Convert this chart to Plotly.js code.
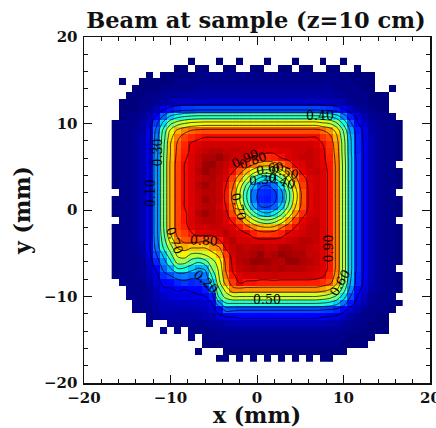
<!DOCTYPE html>
<html><head><meta charset="utf-8">
<script src="https://cdn.plot.ly/plotly-3.0.1.min.js"></script>
<style>html,body{margin:0;padding:0;background:#fff}#c{width:436px;height:428px;overflow:hidden}</style>
</head><body><div id="c"></div>
<script>
const _=null;
// beam intensity in percent, one row per 0.8 mm, top row first; _ = no data
const intensityRows=[
[_,_,_,_,_,_,_,_,_,_, _,0,_,_,_,0,_,_,0,_, _,_,0,_,_,_,0,_,_,_, 0,_,_,0,_,_,_,_,_,_,_,_],
[_,_,_,_,_,_,_,_,_,0, 0,_,0,0,_,_,0,0,_,_, 0,0,_,_,0,0,_,0,0,_, _,0,0,_,_,0,_,_,_,_,_,_],
[_,_,_,_,_,0,_,0,0,0, 0,0,1,1,1,1,1,1,1,1, 1,1,1,1,1,1,1,1,1,1, 1,1,1,0,0,0,0,0,_,_,_,_],
[_,0,_,_,0,0,0,0,0,1, 1,1,1,1,1,1,1,1,1,1, 1,1,1,1,1,1,1,1,1,1, 1,1,1,1,1,0,0,0,_,_,_,_],
[_,_,_,0,0,0,0,1,1,1, 1,1,2,2,2,2,2,2,2,2, 2,2,2,2,2,2,2,2,2,2, 2,2,1,1,1,1,0,0,_,_,0,_],
[_,_,0,0,0,1,1,2,2,3, 3,3,3,3,3,3,3,3,3,3, 3,3,3,3,3,3,3,3,3,3, 3,3,2,2,1,1,1,0,0,0,_,_],
[_,0,0,0,1,1,2,3,4,5, 6,6,6,6,6,6,6,6,6,6, 6,6,6,6,6,6,6,6,6,6, 6,5,5,4,2,1,1,0,0,0,_,_],
[_,0,0,0,1,2,5,10,14,16, 18,18,19,19,19,19,19,19,19,19, 19,19,19,19,19,19,19,19,19,19, 18,17,15,11,6,3,2,1,0,0,_,_],
[_,0,1,1,2,4,12,22,32,37, 40,42,43,43,43,43,43,43,43,43, 43,43,43,43,43,43,43,43,43,43, 41,39,35,25,15,8,4,2,1,1,0,_],
[0,1,1,1,3,6,18,34,48,56, 60,63,64,65,65,65,65,65,65,65, 65,65,65,65,65,65,65,65,65,65, 62,60,52,38,22,11,6,3,1,1,1,0],
[0,1,1,2,3,8,23,43,62,72, 77,80,82,83,83,83,83,83,83,83, 83,83,83,83,83,83,83,83,83,83, 80,76,67,49,28,15,8,3,2,1,1,0],
[0,1,1,2,4,8,25,46,67,78, 84,87,89,90,90,90,90,90,90,90, 90,90,90,90,90,90,90,90,90,90, 86,83,72,53,31,16,8,4,2,1,1,0],
[0,1,1,2,4,9,26,48,70,81, 87,91,92,93,93,93,93,93,93,93, 93,93,93,93,93,93,93,93,93,92, 90,86,75,55,32,16,9,4,2,1,1,0],
[0,1,1,2,4,9,26,49,70,82, 88,91,93,94,95,95,94,94,94,93, 93,92,91,91,92,92,93,93,94,93, 91,87,76,55,32,16,9,4,2,1,1,0],
[0,1,1,2,4,9,27,50,71,83, 89,92,94,96,96,98,95,94,93,91, 89,88,87,88,90,92,93,94,94,93, 91,88,77,56,33,17,9,4,2,1,1,0],
[0,1,1,2,4,9,27,50,72,84, 90,92,94,97,98,95,94,92,90,86, 79,74,72,75,80,85,91,92,94,93, 91,89,78,57,33,17,9,4,2,1,1,_],
[0,1,1,2,4,9,27,50,72,84, 90,92,95,98,96,95,93,90,83,72, 63,56,54,57,65,75,85,91,93,94, 92,89,78,57,33,17,9,4,2,1,1,0],
[0,1,1,2,4,9,27,50,72,84, 90,92,94,95,96,94,92,85,74,60, 46,36,33,38,49,63,77,87,92,93, 92,89,78,57,33,17,9,4,2,1,1,0],
[0,1,1,2,4,9,27,50,72,84, 90,92,95,97,95,94,90,81,65,48, 31,21,19,24,35,52,70,85,91,93, 92,89,78,57,33,17,9,4,2,1,1,0],
[_,1,1,2,4,9,27,50,72,84, 90,92,94,95,95,94,89,78,61,41, 24,17,16,18,27,46,65,82,91,93, 92,89,78,57,33,17,9,4,2,1,1,_],
[0,1,1,2,4,9,27,50,72,84, 90,92,94,97,95,94,89,78,60,41, 24,16,15,18,26,46,65,82,91,93, 92,89,78,57,33,17,9,4,2,1,1,0],
[0,1,1,2,4,9,27,50,72,84, 90,92,94,95,95,93,90,81,65,47, 30,20,19,22,33,51,69,83,91,93, 92,89,78,57,33,17,9,4,2,1,1,0],
[0,1,1,2,4,9,27,50,72,84, 89,92,95,97,95,94,92,84,72,58, 44,34,31,36,47,62,76,87,92,93, 92,89,78,57,33,17,9,4,2,1,1,0],
[_,1,1,2,4,9,27,50,72,84, 89,92,94,95,95,94,92,89,82,71, 61,54,51,55,63,74,85,91,93,94, 92,89,78,57,33,17,9,4,2,1,1,_],
[0,1,1,2,4,9,27,50,72,84, 88,92,93,93,94,94,93,92,89,83, 77,72,70,72,79,85,90,92,94,94, 92,89,78,57,33,17,9,4,2,1,1,0],
[0,1,1,2,4,9,27,48,70,82, 85,89,92,92,92,93,95,93,92,91, 88,85,85,86,88,91,92,93,94,94, 92,89,78,57,33,17,9,4,2,1,1,0],
[0,1,1,2,4,9,26,45,63,77, 82,83,82,80,82,89,93,95,93,93, 92,92,92,92,92,93,94,95,95,94, 92,89,78,57,33,17,9,4,2,1,1,0],
[0,1,1,2,3,9,24,41,55,70, 73,70,70,70,76,78,91,94,95,94, 95,95,94,94,96,96,95,95,94,93, 92,89,78,57,33,17,9,4,2,1,1,0],
[0,1,1,1,3,8,20,32,47,62, 65,58,57,60,65,72,85,93,95,95, 96,98,95,96,98,97,96,96,94,94, 92,89,78,57,33,17,9,4,2,1,1,0],
[0,1,1,1,2,6,16,26,38,54, 54,46,41,46,56,65,82,92,95,96, 98,98,97,96,95,98,98,96,95,94, 92,89,78,57,33,17,9,4,2,1,1,0],
[0,1,1,1,2,5,12,22,29,39, 38,33,29,31,50,62,81,91,94,95, 96,95,96,95,96,95,95,95,94,93, 92,89,78,57,33,17,9,4,2,1,1,_],
[0,1,1,1,2,4,8,17,20,24, 25,23,23,25,41,60,78,89,92,93, 93,93,93,94,93,93,93,93,93,92, 91,87,76,55,32,16,9,4,2,1,1,0],
[_,1,1,1,1,3,7,12,13,16, 18,16,17,21,34,57,74,85,91,89, 89,88,88,88,88,88,88,88,88,88, 86,83,72,52,30,16,8,4,2,1,1,0],
[_,_,1,1,1,2,5,9,9,11, 10,11,12,15,26,48,64,77,77,76, 76,76,76,76,76,76,76,76,76,76, 74,70,61,45,26,13,7,3,2,1,1,0],
[_,_,1,1,1,2,4,6,7,8, 8,8,9,10,15,42,54,60,60,60, 60,60,60,60,60,60,60,60,60,60, 58,55,48,35,20,10,5,2,1,1,1,_],
[_,_,_,1,1,2,3,5,5,6, 6,6,6,7,10,27,39,40,40,40, 40,40,40,40,40,40,40,40,40,40, 39,37,33,24,14,7,4,2,1,1,1,0],
[_,_,_,1,1,1,3,4,4,4, 4,4,5,5,7,13,22,21,20,20, 20,20,20,20,20,20,20,20,20,20, 19,18,16,12,7,4,2,1,1,1,0,_],
[_,_,_,_,_,1,2,3,3,3, 3,3,3,4,4,7,9,10,11,11, 11,11,11,11,11,11,11,11,11,11, 10,9,8,6,3,2,1,1,0,0,_,_],
[_,_,_,_,_,1,_,_,2,2, 2,2,2,2,3,3,4,5,5,5, 5,5,5,5,5,5,5,5,5,5, 5,4,4,3,2,1,1,0,0,0,_,_],
[_,_,_,_,_,_,_,1,_,1, _,1,1,1,1,2,2,2,2,2, 2,2,2,2,2,2,2,2,2,2, 2,2,2,1,1,1,0,0,0,0,_,_],
[_,_,_,_,_,_,_,_,_,_, _,1,_,1,1,1,1,1,1,1, 1,1,1,1,1,1,1,1,1,1, 1,1,1,1,0,0,0,0,_,_,_,_],
[_,_,_,_,_,_,_,_,_,_, _,_,_,0,0,0,1,1,1,1, 1,1,1,1,1,1,1,1,1,1, 1,1,1,0,0,0,0,_,_,_,_,_],
[_,_,_,_,_,_,_,_,_,_, _,_,0,_,_,_,0,0,0,0, 0,0,0,0,0,0,0,0,0,0, 0,0,0,0,_,_,_,_,_,_,_,_],
[_,_,_,_,_,_,_,_,_,_, _,_,_,_,_,0,0,_,0,_, 0,_,0,_,0,_,0,_,0,_, 0,0,_,_,_,_,_,_,_,_,_,_]
];
const labelTexts=["0.40","0.30","0.10","0.70","0.80","0.20","0.50","0.60","0.90","0.70","0.90","0.80","0.60","0.50","0.30","0.40"];
const labelX=[7.3,-11.5,-12.3,-9.5,-6.1,-5.9,1.15,9.6,8.25,-2.1,-1.4,-0.5,1.5,3.2,0.7,2.85];
const labelY=[10.87,6.6,1.9,-3.5,-3.5,-8.3,-10.4,-8.4,-4.4,0.4,6.0,5.7,4.8,4.4,3.55,3.4];
const labelAngle=[0,-90,-90,70,3,42,0,-60,-90,75,-25,-20,-10,15,-5,20];
const tickVals=[-20,-10,0,10,20];

const z=intensityRows.slice().reverse();
const serif='"DejaVu Serif", serif';
const jet=[[0,'rgb(0,0,127)'],[.11,'rgb(0,0,255)'],[.125,'rgb(0,0,255)'],[.34,'rgb(0,219,255)'],[.35,'rgb(0,229,247)'],[.375,'rgb(20,255,226)'],[.64,'rgb(238,255,8)'],[.65,'rgb(247,245,0)'],[.66,'rgb(255,236,0)'],[.89,'rgb(255,19,0)'],[.91,'rgb(232,0,0)'],[1,'rgb(127,0,0)']];
const grid={x0:-16.4,dx:.8,y0:-17.2,dy:.8};
const axis=(title,standoff)=>({range:[-20,20],tickmode:'array',tickvals:tickVals,ticks:'inside',ticklen:8,tickwidth:1,tickcolor:'#111',
  mirror:'allticks',showline:true,linecolor:'#111',linewidth:1.5,showgrid:false,zeroline:false,
  minor:{dtick:2,ticks:'inside',ticklen:4,tickwidth:1,tickcolor:'#111',showgrid:false},
  tickfont:{family:serif,size:15,color:'#111',weight:'bold'},
  title:{text:'<b>'+title+'</b>',font:{family:serif,size:22,color:'#111'},standoff}});
const data=[
 Object.assign({type:'heatmap',z,zmin:0,zmax:100,colorscale:jet,showscale:false,zsmooth:false,hoverongaps:false},grid),
 Object.assign({type:'contour',z,autocontour:false,contours:{start:10,end:90,size:10,coloring:'none'},line:{color:'#000',width:.7,smoothing:1},showscale:false,hoverinfo:'skip'},grid)
];
const contourLabels=labelTexts.map((t,i)=>({text:t,x:labelX[i],y:labelY[i],xref:'x',yref:'y',showarrow:false,textangle:labelAngle[i],font:{family:serif,size:12.5,color:'#000'}}));
const clippedTick={text:'<b>20</b>',x:20,y:0,xref:'x',yref:'paper',yanchor:'top',yshift:-4,showarrow:false,font:{family:serif,size:15,color:'#111'},captureevents:false};
const layout={width:436,height:428,margin:{l:83.5,r:6,t:37,b:45},paper_bgcolor:'#fff',plot_bgcolor:'#fff',showlegend:false,
 title:{text:'<b>Beam at sample (z=10 cm)</b>',font:{family:serif,size:22.5,color:'#111'},x:.587,xanchor:'center',y:.953,yanchor:'middle'},
 xaxis:axis('x (mm)',10),yaxis:Object.assign(axis('y (mm)',7),{ticklabelstandoff:2}),
 annotations:contourLabels.concat([clippedTick])};
Plotly.newPlot('c',data,layout,{displayModeBar:false,staticPlot:true});
</script></body></html>
